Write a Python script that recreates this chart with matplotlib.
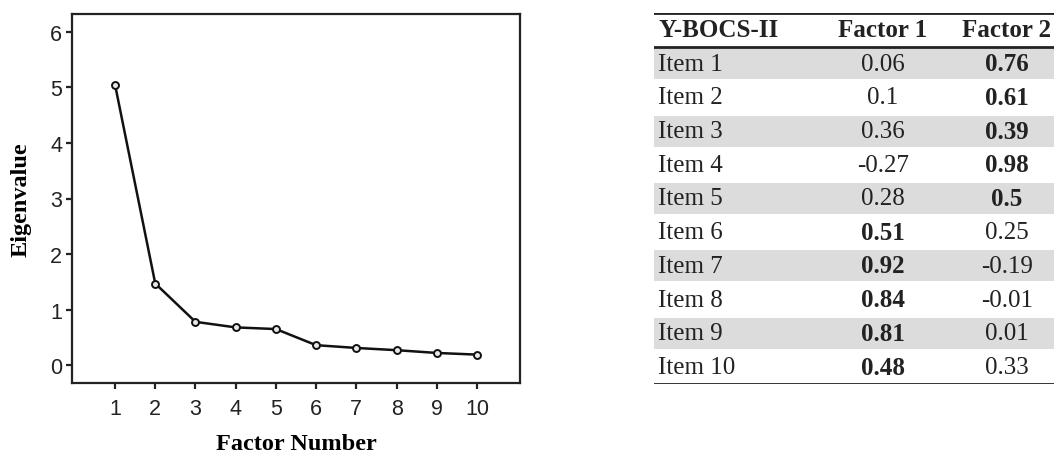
import matplotlib
matplotlib.use("Agg")
import matplotlib.pyplot as plt

# scree plot data
factor_number = [1, 2, 3, 4, 5, 6, 7, 8, 9, 10]
eigenvalues = [5.05, 1.47, 0.78, 0.68, 0.65, 0.36, 0.31, 0.27, 0.22, 0.19]

# loadings table
items = ["Item 1", "Item 2", "Item 3", "Item 4", "Item 5",
         "Item 6", "Item 7", "Item 8", "Item 9", "Item 10"]
factor1 = [0.06, 0.1, 0.36, -0.27, 0.28, 0.51, 0.92, 0.84, 0.81, 0.48]
factor2 = [0.76, 0.61, 0.39, 0.98, 0.5, 0.25, -0.19, -0.01, 0.01, 0.33]
headers = ["Y-BOCS-II", "Factor 1", "Factor 2"]

SERIF = "Liberation Serif"
SANS = "Liberation Sans"

fig = plt.figure(figsize=(10.54, 4.56), dpi=100)

# --- scree plot ---
ax = fig.add_axes([0.0683, 0.158, 0.4251, 0.809])
ax.plot(factor_number, eigenvalues, color="#111111", lw=1.8,
        marker="o", ms=5, mfc="#e8e8e8", mec="#111111", mew=1.4)
ax.set_xlim(-0.07, 11.07)
ax.set_ylim(-0.32, 6.32)
ax.set_xticks(factor_number)
ax.set_yticks(range(0, 7))
for s in ax.spines.values():
    s.set_linewidth(1.6)
    s.set_color("#222222")
ax.tick_params(direction="out", length=4, width=1.6, color="#222222",
               labelsize=15.5, labelcolor="#222222", pad=3)
for lab in ax.get_xticklabels() + ax.get_yticklabels():
    lab.set_family(SANS)
ax.tick_params(axis="x", pad=7)
ax.set_xlabel("Factor Number", family=SERIF, fontweight="bold", fontsize=17.5,
              va="center")
ax.xaxis.set_label_coords(0.5, -0.163)
ax.set_ylabel("Eigenvalue", family=SERIF, fontweight="bold", fontsize=17.5,
              va="center")
ax.yaxis.set_label_coords(-0.113, 0.5)

# --- loadings table ---
tx = fig.add_axes([0.6205, 0.1557, 0.3795, 0.8136])
n = len(items)
tx.set_xlim(0, 1)
tx.set_ylim(n + 1, 0)
tx.axis("off")

col_x = [0.01, 0.5725, 0.8825]
col_ha = ["left", "center", "center"]
fs = 18

for i, h in enumerate(headers):
    tx.text(col_x[i], 0.5, h, ha=col_ha[i], va="center", family=SERIF,
            fontweight="bold", fontsize=fs, color="#222222")

for r in range(n):
    y = r + 1
    if r % 2 == 0:
        tx.axhspan(y + 0.04, y + 0.96, color="#dcdcdc", lw=0)
    f1_bold = abs(factor1[r]) > abs(factor2[r])
    tx.text(col_x[0], y + 0.5, items[r], ha="left", va="center",
            family=SERIF, fontsize=fs, color="#222222")
    tx.text(col_x[1], y + 0.5, f"{factor1[r]:g}", ha="center", va="center",
            family=SERIF, fontsize=fs, color="#222222",
            fontweight="bold" if f1_bold else "normal")
    tx.text(col_x[2], y + 0.5, f"{factor2[r]:g}", ha="center", va="center",
            family=SERIF, fontsize=fs, color="#222222",
            fontweight="normal" if f1_bold else "bold")

for y in [0, 1, n + 1]:
    tx.axhline(y, color="#222222", lw=2)

fig.savefig("out.png", dpi=100)
